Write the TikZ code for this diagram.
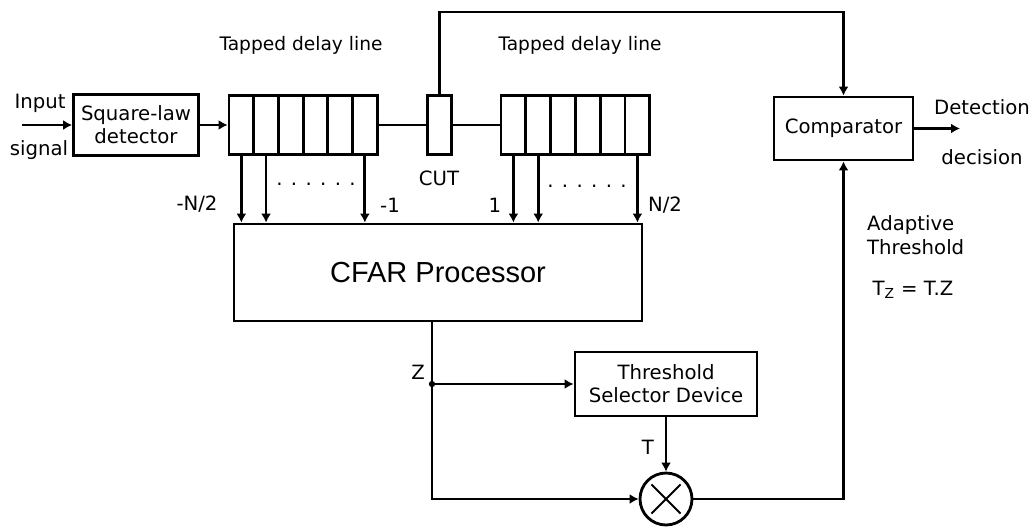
\documentclass[tikz,border=0pt]{standalone}
\usepackage{fontspec}
\setmainfont{DejaVu Sans}
\newfontfamily\arialfont{Liberation Sans}
\usetikzlibrary{arrows.meta, calc}

\begin{document}
\begin{tikzpicture}[
    x=0.02cm, y=-0.02cm,
    block/.style={draw, line width=1.6pt, align=center, inner sep=2pt,
        font=\fontsize{11.2}{13}\selectfont},
    cell/.style={draw, line width=1.6pt, minimum width=0.494cm,
        minimum height=1.18cm, inner sep=0pt},
    arr/.style={-{Latex[length=1.8mm, width=2mm]}, line width=1.6pt},
    every node/.style={font=\fontsize{11.2}{13.6}\selectfont}
]
\useasboundingbox (0,0) rectangle (1034,531);

\node[block, minimum width=2.5cm, minimum height=1.22cm] (sqd) at (136,125) {Square-law\\detector};
\foreach \i in {1,...,6} {
    \node[cell] (a\i) at ({229+24.7*(\i-0.5)},125) {};
    \node[cell] (b\i) at ({501+24.8*(\i-0.5)},125) {};
}
\node[cell] (cut) at (439.5,125) {};
\node[block, minimum width=8.16cm, minimum height=1.94cm,
    font=\arialfont\fontsize{16.5}{20}\selectfont] (proc) at (438,272.5) {CFAR Processor};
\node[block, minimum width=3.64cm, minimum height=1.28cm] (tsd) at (666,384) {Threshold\\Selector Device};
\node[draw, circle, line width=1.6pt, minimum size=1.04cm, inner sep=0pt] (mul) at (666,499) {};
\node[block, minimum width=2.78cm, minimum height=1.26cm] (comp) at (843.5,128.5) {Comparator};

\coordinate (in) at (22,125);
\coordinate (out) at (960,128.5);
\coordinate (topy) at (0,12);
\coordinate (zj) at (432,384);

% delay lines and taps
\draw[arr] (in) -- (sqd.west);
\draw[arr] (sqd.east) -- (a1.west);
\draw[line width=1.6pt] (a6.east) -- (cut.west) (cut.east) -- (b1.west);
\foreach \t in {a1,a2,a6,b1,b2,b6}
    \draw[arr] (\t.south) -- (\t.south |- proc.north);

% threshold path
\draw[arr] (zj |- proc.south) |- (mul.west);
\draw[arr] (zj) -- (tsd.west);
\fill (zj) circle (1.8pt);
\draw[arr] (tsd.south) -- (mul.north);
\draw[line width=1.1pt] ($(mul)!0.75!(mul.45)$) -- ($(mul)!0.75!(mul.225)$)
    ($(mul)!0.75!(mul.135)$) -- ($(mul)!0.75!(mul.315)$);
\draw[arr] (mul.east) -| (comp.south);
\draw[arr] (cut.north) -- (cut.north |- topy) -| (comp.north);
\draw[arr] (comp.east) -- (out);

\node[font=\fontsize{10.6}{12}\selectfont] at (301,45) {Tapped delay line};
\node[font=\fontsize{10.6}{12}\selectfont] at (580,45) {Tapped delay line};
\node at (439,178) {CUT};
\node at (197,204) {-N/2};
\node at (390,205) {-1};
\node at (495,205) {1};
\node at (665,205) {N/2};
\node at (316,184) {. . . . . .};
\node at (587,186) {. . . . . .};
\node at (40,103) {Input};
\node at (39,150) {signal};
\node at (982,107) {Detection};
\node at (982,157) {decision};
\node at (418,372) {Z};
\node at (648,447) {T};
\node[align=left, anchor=west] at (861,235) {Adaptive\\Threshold};
\node at (913,290) {T\textsubscript{Z} = T.Z};

\end{tikzpicture}
\end{document}
